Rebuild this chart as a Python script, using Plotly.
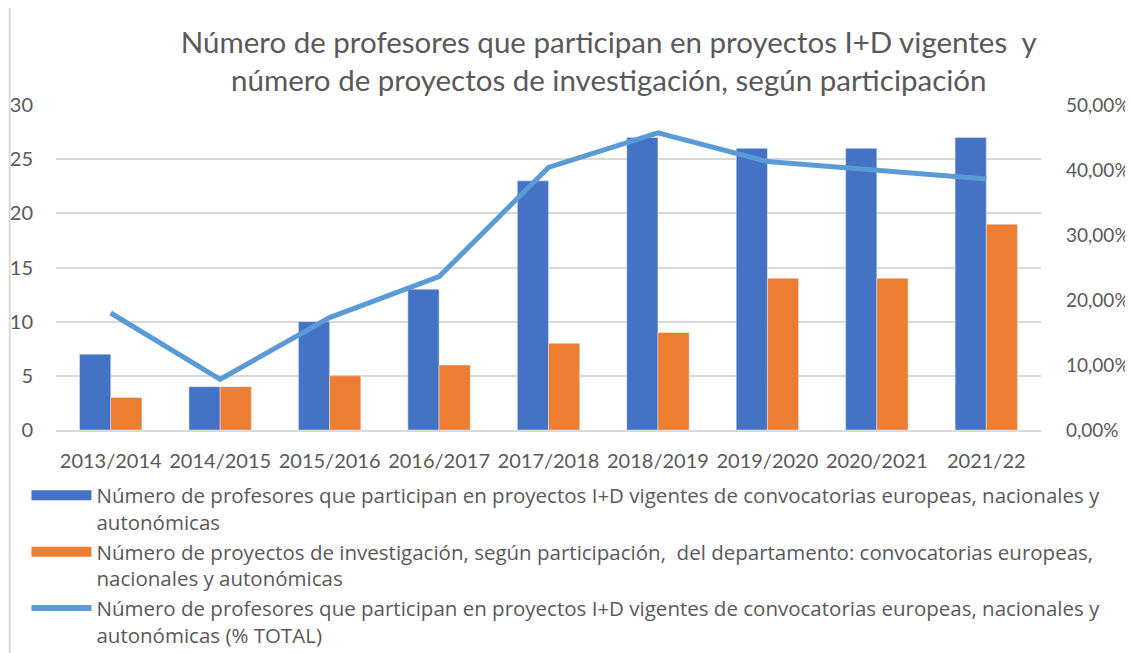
import plotly.graph_objects as go

CATEGORIES = [
    "2013/2014", "2014/2015", "2015/2016", "2016/2017", "2017/2018",
    "2018/2019", "2019/2020", "2020/2021", "2021/22",
]
PROFESORES = [7, 4, 10, 13, 23, 27, 26, 26, 27]
PROYECTOS = [3, 4, 5, 6, 8, 9, 14, 14, 19]
PCT_TOTAL = [0.18, 0.078, 0.173, 0.236, 0.404, 0.457, 0.413, 0.40, 0.386]

NAME_PROF = ("Número de profesores que participan en proyectos I+D vigentes de convocatorias europeas, nacionales y"
             "<br>autonómicas")
NAME_PROY = ("Número de proyectos de investigación, según participación,  del departamento: convocatorias europeas,"
             "<br>nacionales y autonómicas")
NAME_PCT = ("Número de profesores que participan en proyectos I+D vigentes de convocatorias europeas, nacionales y"
            "<br>autonómicas (% TOTAL)")
TITLE = ("Número de profesores que participan en proyectos I+D vigentes  y"
         "<br>número de proyectos de investigación, según participación")

FONT = "Lato, 'Open Sans', sans-serif"
TEXT_GREY = "#595959"
BLUE = "#4472C4"
ORANGE = "#ED7D31"
LIGHT_BLUE = "#5B9BD5"

fig = go.Figure()
fig.add_trace(go.Bar(name=NAME_PROF, x=CATEGORIES, y=PROFESORES, marker_color=BLUE, showlegend=False))
fig.add_trace(go.Bar(name=NAME_PROY, x=CATEGORIES, y=PROYECTOS, marker_color=ORANGE, showlegend=False))
fig.add_trace(
    go.Scatter(
        name=NAME_PCT,
        x=CATEGORIES,
        y=PCT_TOTAL,
        mode="lines",
        line=dict(color=LIGHT_BLUE, width=5),
        yaxis="y2",
        showlegend=False,
    )
)

# legend-only entries, so the bar keys come out as wide rectangles like in Excel
for name, color, width in [(NAME_PROF, BLUE, 13), (NAME_PROY, ORANGE, 13), (NAME_PCT, LIGHT_BLUE, 6)]:
    fig.add_trace(
        go.Scatter(name=name, x=[None], y=[None], mode="lines", line=dict(color=color, width=width))
    )

fig.update_layout(
    width=1125,
    height=645,
    margin=dict(l=48, r=92, t=97, b=223, autoexpand=False),
    paper_bgcolor="white",
    plot_bgcolor="white",
    separators=",.",
    font=dict(family=FONT, color=TEXT_GREY, size=20),
    title=dict(
        text=TITLE,
        font=dict(size=29.5, color=TEXT_GREY),
        x=0.534,
        xanchor="center",
        y=0.931,
        yanchor="middle",
    ),
    barmode="group",
    bargap=0.43,
    bargroupgap=0,
    showlegend=True,
    legend=dict(
        orientation="v",
        x=-0.030,
        xanchor="left",
        y=-0.14,
        yanchor="top",
        valign="top",
        font=dict(family="'Open Sans', Lato, sans-serif", size=20.5, color=TEXT_GREY),
        tracegroupgap=0,
        itemwidth=60,
    ),
    xaxis=dict(
        showgrid=False,
        showline=True,
        linecolor="#D9D9D9",
        linewidth=1.5,
        ticks="",
        tickangle=0,
        tickfont=dict(size=20),
        ticklabelstandoff=12,
        automargin=False,
    ),
    yaxis=dict(
        range=[0, 30],
        dtick=5,
        showgrid=True,
        gridcolor="#D9D9D9",
        gridwidth=1.5,
        zeroline=False,
        ticks="",
        tickfont=dict(size=20),
        ticklabelstandoff=22,
        automargin=False,
    ),
    yaxis2=dict(
        range=[0, 0.5],
        dtick=0.1,
        tickformat=".2%",
        overlaying="y",
        side="right",
        showgrid=False,
        zeroline=False,
        ticks="",
        tickfont=dict(size=19),
        ticklabelstandoff=24,
        automargin=False,
    ),
    shapes=[
        dict(
            type="line",
            xref="paper",
            yref="paper",
            x0=-0.047,
            x1=-0.047,
            y0=-0.7,
            y1=1.35,
            line=dict(color="#D9D9D9", width=2),
        )
    ],
)

fig.write_html("out.html")
